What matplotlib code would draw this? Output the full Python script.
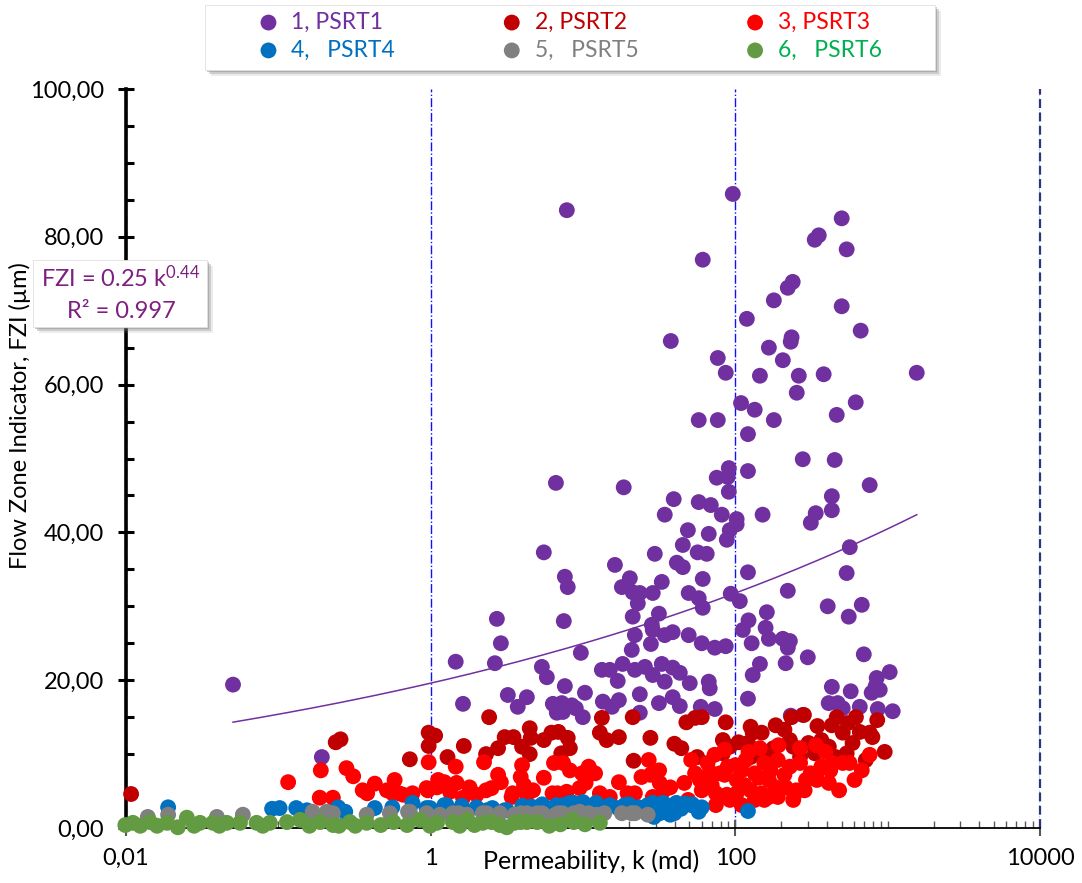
import numpy as np
import matplotlib
matplotlib.use('Agg')
import matplotlib.pyplot as plt
from matplotlib.ticker import FixedLocator, LogLocator, FuncFormatter, MultipleLocator, NullFormatter
from matplotlib.patches import Rectangle

# PSRT1
k1 = [0.0504, 0.193, 7.83, 96.2, 61.1, 37.7, 499, 332, 353, 538,
      238, 221, 179, 499, 119, 665, 234, 231, 166, 76.7,
      205, 86.5, 145, 261, 380, 1552, 253, 109, 134, 617,
      463, 179, 76.7, 57.5, 121, 277, 449, 90.6, 121, 75.5,
      89.2, 762, 90.6, 430, 69.0, 57.5, 337, 430, 81.5, 151,
      102, 313, 102, 91.9, 66.9, 87.9, 6.64, 18.5, 39.4, 34.4,
      48.8, 45.2, 5.53, 7.60, 7.94, 2.72, 7.48, 2.89, 1.46, 2.64,
      5.37, 5.79, 9.68, 7.60, 1.63, 3.21, 4.28, 3.73, 10.3, 6.34,
      7.26, 8.45, 6.73, 7.38, 9.97, 8.97, 13.3, 15.0, 16.9, 13.5,
      15.5, 17.2, 16.2, 20.3, 18.0, 21.2, 23.6, 28.7, 32.9, 22.9,
      21.2, 31.5, 28.3, 28.7, 21.9, 38.8, 34.4, 27.9, 20.9, 18.2,
      21.9, 25.5, 28.7, 32.9, 38.8, 43.2, 34.4, 50.2, 23.6, 31.5,
      38.8, 43.2, 23.6, 59.3, 73.3, 66.9, 67.9, 73.3, 49.4, 60.2,
      49.4, 57.5, 61.1, 61.1, 41.3, 45.2, 29.6, 56.6, 64.9, 564,
      121, 538, 221, 93.3, 107, 404, 676, 555, 161, 122,
      112, 158, 166, 205, 228, 221, 128, 86.5, 145, 130,
      214, 299, 697, 1031, 847, 834, 785, 887, 430, 572,
      121, 410, 470, 507, 656, 861, 1079, 231, 277]
fzi1 = [19.4, 9.6, 83.6, 85.8, 76.9, 65.9, 82.5, 79.6, 80.2, 78.3,
        73.9, 73.1, 71.4, 70.6, 68.9, 67.3, 66.4, 65.8, 65.0, 63.6,
        63.3, 61.6, 61.2, 61.2, 61.4, 61.6, 58.9, 57.5, 56.6, 57.6,
        55.9, 55.2, 55.2, 55.2, 53.3, 49.9, 49.8, 48.7, 48.3, 47.4,
        47.5, 46.4, 45.5, 44.9, 43.7, 44.1, 42.6, 43.0, 42.4, 42.4,
        41.8, 41.3, 41.1, 40.3, 39.8, 39.0, 46.7, 46.1, 44.5, 42.4,
        40.3, 38.3, 37.3, 34.0, 32.6, 28.3, 28.0, 25.0, 22.5, 22.3,
        21.8, 20.4, 23.7, 19.2, 16.8, 18.0, 17.7, 16.4, 18.3, 16.8,
        16.9, 16.6, 15.6, 15.7, 15.0, 16.2, 21.4, 21.4, 19.9, 17.1,
        16.4, 17.3, 35.6, 33.8, 32.6, 31.9, 31.8, 31.8, 33.3, 30.4,
        28.6, 29.0, 27.5, 26.8, 26.1, 26.5, 26.1, 24.9, 24.1, 22.2,
        21.4, 21.8, 20.7, 22.2, 21.7, 21.0, 19.8, 19.6, 18.1, 16.9,
        17.7, 16.5, 15.6, 16.4, 16.1, 19.8, 18.9, 24.4, 26.1, 25.0,
        31.8, 31.1, 29.8, 33.7, 35.9, 35.3, 37.1, 37.3, 37.1, 38.0,
        34.6, 34.5, 32.1, 31.7, 30.7, 30.0, 30.2, 28.6, 29.2, 28.1,
        26.8, 27.1, 25.6, 25.6, 25.3, 24.4, 25.0, 24.6, 22.2, 20.7,
        22.3, 23.1, 23.5, 21.1, 20.3, 19.2, 18.3, 18.7, 19.1, 18.5,
        17.5, 16.9, 16.9, 16.2, 16.4, 16.1, 15.8, 15.2, 15.3]

# PSRT2
k2 = [0.0108, 0.238, 0.256, 2.42, 0.97, 1.07, 0.97, 1.65, 0.73, 1.29,
      2.31, 2.77, 3.06, 3.50, 4.47, 4.54, 3.98, 4.47, 5.53, 6.2,
      6.9, 7.94, 8.2, 7.2, 13.3, 12.9, 14.3, 17.2, 21.2, 27.7,
      21.5, 39.8, 44.2, 47.7, 54.4, 60.2, 56.2, 86.5, 82.8, 92,
      105, 82.8, 126, 130, 149, 121, 178, 184, 210, 228,
      240, 282, 234, 346, 302, 367, 430, 463, 411, 507,
      588, 619, 794, 854, 956, 718, 538, 456, 126, 155,
      266, 333, 548, 656, 762]
fzi2 = [4.6, 11.6, 12.0, 15.0, 12.9, 12.5, 11.1, 11.1, 9.3, 9.6,
        10.0, 10.8, 12.3, 12.3, 13.5, 12.2, 11.0, 10.0, 11.9, 12.9,
        13.0, 12.2, 10.8, 10.1, 14.9, 12.9, 11.9, 12.3, 15.0, 12.2,
        9.1, 11.4, 10.8, 14.3, 14.9, 15.0, 9.6, 14.3, 11.9, 11.0,
        11.6, 10.1, 13.7, 12.9, 12.9, 11.5, 10.8, 13.9, 13.3, 11.9,
        11.0, 15.3, 15.0, 13.8, 11.5, 11.9, 13.9, 15.0, 11.0, 12.9,
        11.5, 15.0, 12.3, 14.6, 10.3, 9.2, 10.1, 9.6, 9.6, 9.6,
        9.6, 10.1, 14.2, 13.0, 12.9]

# PSRT3
k3 = [0.116, 0.187, 0.228, 0.358, 0.383, 0.516, 0.562, 0.66, 0.76, 0.958,
      1.10, 1.34, 1.63, 2.0, 2.51, 3.45, 4.28, 6.31, 7.81, 9.5,
      0.19, 0.28, 0.31, 0.43, 0.58, 0.97, 0.62, 0.94, 1.12, 1.23,
      1.46, 1.48, 1.80, 2.24, 2.31, 2.77, 2.89, 3.40, 3.98, 3.9,
      4.1, 4.7, 5.53, 6.45, 7.4, 6.8, 8.2, 9.85, 10.9, 12.0,
      10.4, 12.9, 17.2, 15.0, 19.6, 24.2, 27.7, 31.9, 21.9, 28.7,
      37.4, 46.2, 51.3, 54.4, 65.7, 49, 60.2, 74.5, 79.4, 89.1,
      102, 117, 134, 155, 170, 190, 228, 266, 312, 367,
      430, 507, 562, 102, 126, 149, 184, 214, 251, 291,
      343, 411, 134, 166, 92, 74.5, 190, 240, 676, 762,
      606, 480, 58.5, 70, 85, 115, 142, 110, 166, 210,
      68, 100, 145, 192, 266, 339, 390, 31.6, 27, 34,
      88, 110, 155, 339, 420, 285, 244, 73, 85, 122]
fzi3 = [6.2, 4.1, 4.1, 5.1, 4.7, 5.1, 4.7, 4.5, 4.7, 5.1,
        5.5, 4.9, 4.1, 4.5, 5.4, 4.7, 4.5, 4.7, 4.9, 5.4,
        7.8, 8.1, 7.0, 6.0, 6.5, 8.9, 4.7, 5.4, 6.5, 6.2,
        8.3, 6.1, 5.5, 8.9, 5.1, 7.2, 6.2, 4.2, 8.5, 6.9,
        5.8, 5.1, 6.8, 8.8, 8.8, 4.7, 7.8, 7.4, 8.3, 7.4,
        6.1, 4.7, 6.2, 4.2, 4.7, 6.9, 7.2, 6.1, 4.7, 4.2,
        5.5, 6.1, 9.2, 7.4, 8.8, 3.8, 5.1, 4.7, 7.4, 8.3,
        6.5, 9.2, 7.4, 8.8, 7.8, 9.2, 8.3, 8.8, 7.4, 8.3,
        8.8, 8.8, 8.8, 4.7, 5.1, 4.7, 5.5, 5.5, 5.1, 6.5,
        6.5, 6.1, 3.8, 4.2, 3.8, 3.1, 4.2, 3.8, 7.8, 9.9,
        6.5, 5.1, 6.5, 5.8, 7.2, 5.8, 6.8, 7.8, 6.5, 7.2,
        7.6, 8.5, 10.8, 11.2, 10.8, 11.2, 10.3, 7.8, 9.2, 5.1,
        4.5, 3.1, 3.8, 7.2, 7.8, 5.1, 4.5, 9.9, 10.6, 10.3]

# PSRT4
k4 = [0.0189, 0.091, 0.102, 0.131, 0.154, 0.247, 0.275, 0.43, 0.56, 0.76,
      0.99, 1.27, 2.0, 2.34, 2.54, 3.16, 5.4, 6.7, 8.2, 10.0,
      6.45, 7.4, 8.7, 12.2, 15.0, 18.8, 20.0, 23.2, 26.6, 28.7,
      33.4, 35.5, 41, 51.3, 52.3, 60.2, 37.4, 29.2, 31.9, 39.8,
      57.5, 121, 3.06, 0.94, 1.23, 1.6, 4.0, 4.6, 44, 47,
      13.5, 17]
fzi4 = [2.8, 2.6, 2.7, 2.7, 2.4, 2.8, 2.2, 2.7, 2.8, 3.4,
        2.7, 3.1, 2.8, 2.4, 2.7, 2.4, 3.2, 3.1, 3.4, 3.5,
        2.8, 3.1, 3.4, 3.4, 3.1, 3.1, 3.2, 2.8, 3.1, 3.4,
        3.4, 3.1, 3.4, 3.1, 3.2, 2.8, 1.8, 1.5, 2.0, 2.0,
        2.2, 2.3, 2.4, 2.7, 3.1, 3.0, 3.0, 2.9, 2.6, 3.3,
        2.6, 2.7]

# PSRT5
k5 = [0.0139, 0.0189, 0.0395, 0.0585, 0.168, 0.208, 0.228, 0.38, 0.54, 0.73,
      0.94, 1.40, 1.73, 2.2, 2.85, 4.28, 5.4, 7.3, 9.5, 3.9,
      5.0, 6.6, 8.7, 10.9, 13.8, 18.0, 26.6, 0.71, 1.52, 2.34,
      6.9, 20.8, 1.15, 3.55, 12.3, 21.9]
fzi5 = [1.5, 1.8, 1.5, 1.8, 2.2, 2.2, 2.0, 1.8, 2.0, 2.2,
        2.0, 2.0, 1.8, 2.0, 2.0, 2.0, 2.0, 2.0, 2.2, 2.0,
        2.0, 1.8, 2.0, 2.0, 2.0, 2.0, 1.8, 2.2, 2.0, 2.0,
        2.0, 2.0, 1.8, 1.8, 1.8, 2.0]

# PSRT6
k6 = [0.0099, 0.0111, 0.0144, 0.0186, 0.0219, 0.0251, 0.0306, 0.0372, 0.0459, 0.056,
      0.072, 0.088, 0.114, 0.139, 0.188, 0.229, 0.295, 0.38, 0.47, 0.57,
      0.70, 0.85, 1.10, 1.40, 1.73, 2.2, 2.85, 3.16, 4.28, 5.0,
      8.5, 3.9, 8.7, 12.9, 0.0124, 0.016, 0.028, 0.041, 0.079, 0.16,
      0.25, 0.32, 0.99, 1.55, 1.94, 2.51, 3.55, 6.0, 7.1, 10.3]
fzi6 = [0.4, 0.7, 0.8, 0.7, 0.1, 1.4, 0.7, 0.7, 0.7, 0.7,
        0.7, 0.7, 0.8, 1.1, 0.8, 0.4, 0.8, 0.7, 0.4, 0.8,
        0.4, 1.1, 0.7, 0.8, 1.1, 0.7, 0.4, 0.1, 0.8, 0.8,
        1.1, 0.8, 0.8, 0.7, 0.3, 0.3, 0.3, 0.3, 0.3, 0.3,
        0.3, 0.3, 0.3, 0.3, 0.4, 0.8, 0.7, 0.3, 0.5, 0.5]

labels = ['1, PSRT1', '2, PSRT2', '3, PSRT3', '4,   PSRT4', '5,   PSRT5', '6,   PSRT6']
marker_colors = ['#7030A0', '#C00000', '#FF0000', '#0070C0', '#808080', '#629B41']
text_colors = ['#7030A0', '#C00000', '#FF0000', '#0070C0', '#808080', '#00B050']

# power trendline of PSRT1
trend_coef = 19.6
trend_exp = 0.105

plt.rcParams['font.family'] = ['Lato', 'DejaVu Sans']
plt.rcParams['mathtext.default'] = 'regular'

W, H = 1082, 883
fig = plt.figure(figsize=(W / 100, H / 100), dpi=100)
ax = fig.add_axes([126 / W, 1 - 828 / H, (1040 - 126) / W, (828 - 89) / H])

series = [(k1, fzi1), (k2, fzi2), (k3, fzi3), (k4, fzi4), (k5, fzi5), (k6, fzi6)]
handles = []
for i, (k, f) in enumerate(series):
    h = ax.scatter(k, f, s=130, color=marker_colors[i], edgecolors='none',
                   clip_on=False, zorder=3 + i, label=labels[i])
    handles.append(h)

tk = np.geomspace(min(k1), max(k1), 200)
ax.plot(tk, trend_coef * tk ** trend_exp, color='#7030A0', lw=1.1, zorder=10)

ax.set_xscale('log')
ax.set_xlim(0.01, 10000)
ax.set_ylim(0, 100)
ax.xaxis.set_major_locator(FixedLocator([0.01, 1, 100, 10000]))
ax.xaxis.set_minor_locator(LogLocator(base=10, subs=np.arange(1, 10), numticks=30))
ax.xaxis.set_major_formatter(FuncFormatter(lambda v, p: f'{v:g}'.replace('.', ',')))
ax.xaxis.set_minor_formatter(NullFormatter())
ax.yaxis.set_major_locator(MultipleLocator(20))
ax.yaxis.set_minor_locator(MultipleLocator(5))
ax.yaxis.set_major_formatter(FuncFormatter(lambda v, p: f'{v:.2f}'.replace('.', ',')))

ax.tick_params(axis='y', which='major', direction='inout', length=12, width=2.2, pad=10, labelsize=17)
ax.tick_params(axis='y', which='minor', direction='in', length=6, width=2.2)
ax.tick_params(axis='x', which='major', direction='inout', length=11, width=1.5, color='#595959',
               pad=9, labelsize=17)
ax.tick_params(axis='x', which='minor', direction='in', length=5, width=1, color='#595959')

for s in ['top', 'right']:
    ax.spines[s].set_visible(False)
ax.spines['left'].set_linewidth(2.6)
ax.spines['bottom'].set_linewidth(1.3)

ax.grid(True, axis='x', which='major', color='#1010FF', linestyle='-.', lw=1.0)
ax.axvline(10000, color='#2A357F', ls=(0, (4, 2)), lw=1.6, clip_on=False)

ax.set_xlabel('Permeability, k (md)', fontsize=18)
ax.xaxis.set_label_coords((591 - 126) / (1040 - 126), -0.029)
fig.text(20 / W, 1 - 416 / H, 'Flow Zone Indicator, FZI (\u00b5m)', rotation=90,
         ha='center', va='center', fontsize=17)


def fx(x):
    return x / W


def fy(y):
    return 1 - y / H


def shadow_box(x0, y0, x1, y1):
    for off, a in [(6, 0.15), (4, 0.3), (2, 0.4)]:
        fig.patches.append(Rectangle((fx(x0 + off), fy(y1 + off)), fx(x1 - x0), (y1 - y0) / H,
                                     transform=fig.transFigure, facecolor='#808080',
                                     edgecolor='none', alpha=a, zorder=20))
    fig.patches.append(Rectangle((fx(x0), fy(y1)), fx(x1 - x0), (y1 - y0) / H,
                                 transform=fig.transFigure, facecolor='white',
                                 edgecolor='#E0E0E0', lw=0.6, zorder=21))


# equation box
shadow_box(33, 260, 207, 327)
fig.text(fx(121), fy(278), 'FZI = 0.25 k$^{0.44}$', ha='center', va='center',
         fontsize=17, color='#7F1F80', zorder=22)
fig.text(fx(121), fy(311), 'R\u00b2 = 0.997', ha='center', va='center',
         fontsize=17, color='#7F1F80', zorder=22)

# legend
shadow_box(205, 5, 935, 70)
order = [0, 3, 1, 4, 2, 5]
leg = fig.legend([handles[i] for i in order], [labels[i] for i in order],
                 loc='center', bbox_to_anchor=(fx(257), fy(68), fx(882 - 257), 64 / H),
                 mode='expand', ncol=3, frameon=False, fontsize=16.5, borderpad=0,
                 handlelength=1.0, handletextpad=0.5, labelspacing=0.3, borderaxespad=0)
leg.set_zorder(25)
for t, i in zip(leg.get_texts(), order):
    t.set_color(text_colors[i])

fig.savefig('out.png', dpi=100)
